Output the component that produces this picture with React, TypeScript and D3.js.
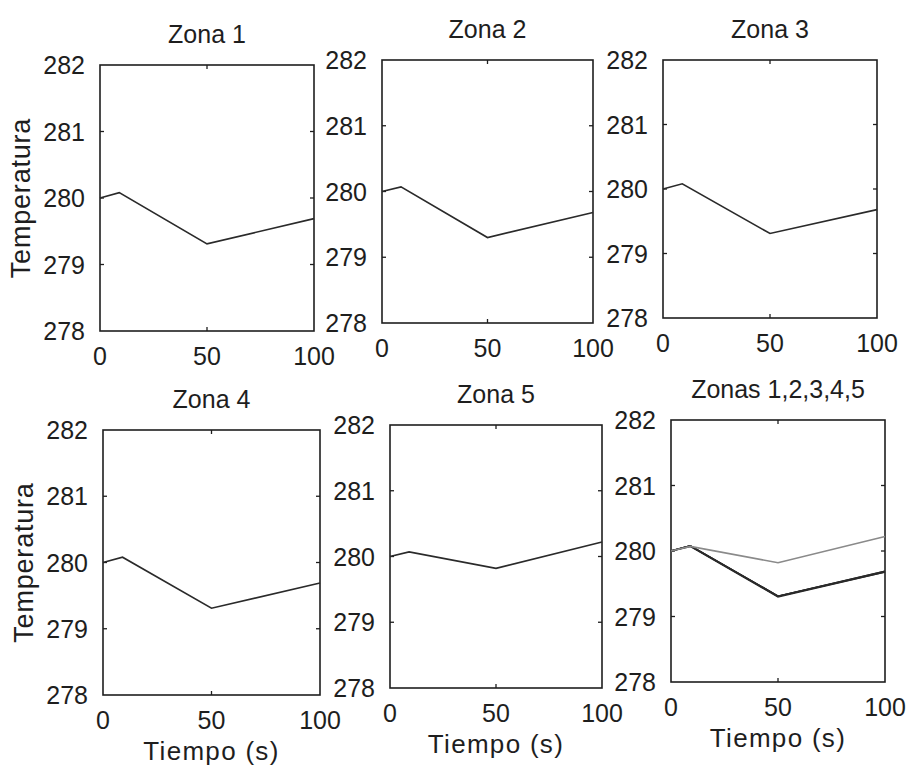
// Temperature of five zones: six small MATLAB-style panels drawn with d3 scales
import React from 'react';
import * as d3 from 'd3';

// data
const timeS = [0, 9, 50, 100];
const zone1 = [280.0, 280.08, 279.31, 279.69];
const zone2 = [280.0, 280.07, 279.3, 279.68];
const zone3 = [280.0, 280.08, 279.31, 279.68];
const zone4 = [280.0, 280.08, 279.31, 279.69];
const zone5 = [280.0, 280.07, 279.82, 280.22];

const xTicks = [0, 50, 100];
const yTicks = [278, 279, 280, 281, 282];
const titles = ['Zona 1', 'Zona 2', 'Zona 3', 'Zona 4', 'Zona 5', 'Zonas 1,2,3,4,5'];

// panel boxes (left, top, right, bottom) as they sit in the scan
const boxes = [
  [100, 65, 314, 331],
  [382, 60, 593, 323],
  [663, 60, 877, 318],
  [103, 430, 320, 695],
  [390, 425, 602, 688],
  [671, 420, 885, 682],
];

const font = 'Liberation Sans, Arial, sans-serif';
const ink = '#1e1e1e';

type Series = { values: number[]; color: string };

function Panel({ idx, series }: { idx: number; series: Series[] }) {
  const [l, t, r, b] = boxes[idx];
  const x = d3.scaleLinear().domain([0, 100]).range([l, r]);
  const y = d3.scaleLinear().domain([278, 282]).range([b, t]);
  const line = d3.line<number>()
    .x((_, i) => x(timeS[i]))
    .y(d => y(d));
  const tk = 4;
  return (
    <g>
      <rect x={l} y={t} width={r - l} height={b - t} fill="none" stroke={ink} strokeWidth={1.6} />
      {yTicks.slice(1, -1).map(v => (
        <g key={'yt' + v}>
          <line x1={l} x2={l + tk} y1={y(v)} y2={y(v)} stroke={ink} strokeWidth={1.3} />
          <line x1={r} x2={r - tk} y1={y(v)} y2={y(v)} stroke={ink} strokeWidth={1.3} />
        </g>
      ))}
      {xTicks.slice(1, -1).map(v => (
        <g key={'xt' + v}>
          <line x1={x(v)} x2={x(v)} y1={b} y2={b - tk} stroke={ink} strokeWidth={1.3} />
          <line x1={x(v)} x2={x(v)} y1={t} y2={t + tk} stroke={ink} strokeWidth={1.3} />
        </g>
      ))}
      <g fill={ink}>
        {yTicks.map(v => (
          <text key={'yl' + v} x={l - 15} y={y(v) + 9} textAnchor="end" fontSize={25}>{v}</text>
        ))}
        {xTicks.map(v => (
          <text key={'xl' + v} x={x(v)} y={b + 34} textAnchor="middle" fontSize={25}>{v}</text>
        ))}
        <text x={(l + r) / 2} y={t - 22} textAnchor="middle" fontSize={25}>{titles[idx]}</text>
        {idx % 3 === 0 && (
          <text transform={`translate(${l - 70},${(t + b) / 2}) rotate(-90)`} textAnchor="middle"
            fontSize={27} letterSpacing={0.8}>Temperatura</text>
        )}
        {idx >= 3 && (
          <text x={(l + r) / 2} y={b + 65} textAnchor="middle" fontSize={26} letterSpacing={1.3}>Tiempo (s)</text>
        )}
      </g>
      {series.map((s, i) => (
        <path key={i} d={line(s.values) || ''} fill="none" stroke={s.color} strokeWidth={1.6} />
      ))}
    </g>
  );
}

export default function App() {
  const dark = '#2a2a2a';
  const panels: Series[][] = [
    [{ values: zone1, color: dark }],
    [{ values: zone2, color: dark }],
    [{ values: zone3, color: dark }],
    [{ values: zone4, color: dark }],
    [{ values: zone5, color: dark }],
    [
      { values: zone1, color: dark },
      { values: zone2, color: dark },
      { values: zone3, color: dark },
      { values: zone4, color: dark },
      { values: zone5, color: '#8a8a8a' },
    ],
  ];
  return (
    <svg width={919} height={770} style={{ position: 'absolute', left: 0, top: 0, background: '#fff' }}
      fontFamily={font}>
      {panels.map((s, i) => <Panel key={i} idx={i} series={s} />)}
    </svg>
  );
}
